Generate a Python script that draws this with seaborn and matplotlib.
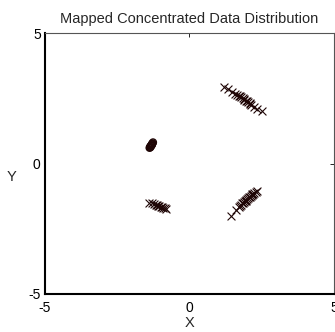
import matplotlib
matplotlib.use("Agg")
import matplotlib.pyplot as plt
import seaborn as sns
import pandas as pd

sns.set_style("white")
plt.rcParams['font.family'] = ['Liberation Sans', 'DejaVu Sans']
plt.rcParams['axes.unicode_minus'] = False

# Cluster A (circles)
a_x = [-1.38, -1.36, -1.34, -1.32, -1.30, -1.28, -1.26, -1.31, -1.29, -1.35]
a_y = [0.60, 0.64, 0.67, 0.70, 0.73, 0.77, 0.81, 0.69, 0.75, 0.62]
# Cluster B (crosses, lower left)
b_x = [-1.40, -1.30, -1.22, -1.16, -1.12, -1.08, -1.04, -1.00, -0.96, -0.92, -0.86, -0.80]
b_y = [-1.50, -1.52, -1.55, -1.58, -1.60, -1.62, -1.64, -1.66, -1.68, -1.70, -1.72, -1.76]
# Cluster C (crosses, lower right)
c_x = [1.45, 1.60, 1.70, 1.76, 1.80, 1.85, 1.88, 1.92, 1.96, 2.00, 2.04, 2.08, 2.12, 2.16, 2.20, 2.25, 2.30, 2.35, 1.82, 1.94, 2.06, 2.18]
c_y = [-2.00, -1.80, -1.68, -1.62, -1.58, -1.52, -1.48, -1.45, -1.40, -1.36, -1.32, -1.28, -1.24, -1.20, -1.16, -1.12, -1.08, -1.05, -1.50, -1.42, -1.30, -1.18]
# Cluster D (crosses, upper right)
d_x = [1.20, 1.35, 1.48, 1.58, 1.66, 1.72, 1.78, 1.84, 1.90, 1.96, 2.02, 2.08, 2.14, 2.22, 2.32, 2.50, 1.75, 1.87, 1.99, 2.11]
d_y = [2.92, 2.85, 2.75, 2.68, 2.62, 2.58, 2.54, 2.50, 2.45, 2.40, 2.35, 2.30, 2.25, 2.18, 2.10, 2.00, 2.60, 2.48, 2.38, 2.28]

x_ticks = [-5, 0, 5]
y_ticks = [-5, 0, 5]

color = "#1e0505"

fig = plt.figure(figsize=(3.35, 3.32), dpi=100)
ax = fig.add_axes([0.134, 0.1145, 0.863, 0.786])

sns.scatterplot(x=a_x, y=a_y, ax=ax, marker='o', s=24, facecolor='none',
                edgecolor=color, linewidth=1.0)
for xs, ys in [(b_x, b_y), (c_x, c_y), (d_x, d_y)]:
    sns.scatterplot(x=xs, y=ys, ax=ax, marker='x', s=32, color=color, linewidth=0.8)

ax.set_xlim(-5, 5)
ax.set_ylim(-5, 5)
ax.set_xticks(x_ticks)
ax.set_yticks(y_ticks)
ax.tick_params(direction='in', length=3, labelsize=10, top=True, right=True,
               colors='black', width=0.6)
ax.tick_params(axis='x', pad=5)
ax.tick_params(axis='y', pad=3)
for s in ['left', 'bottom']:
    ax.spines[s].set_linewidth(1.5)
    ax.spines[s].set_color('black')
for s in ['top', 'right']:
    ax.spines[s].set_linewidth(0.8)
    ax.spines[s].set_color('#555555')

ax.set_title("Mapped Concentrated Data Distribution", fontsize=10.5, pad=7)
ax.set_xlabel("X", fontsize=10.5, labelpad=1)
ax.set_ylabel("Y", fontsize=10.5, rotation=0)
ax.yaxis.set_label_coords(-0.115, 0.42)

fig.savefig("out.png", dpi=100)
